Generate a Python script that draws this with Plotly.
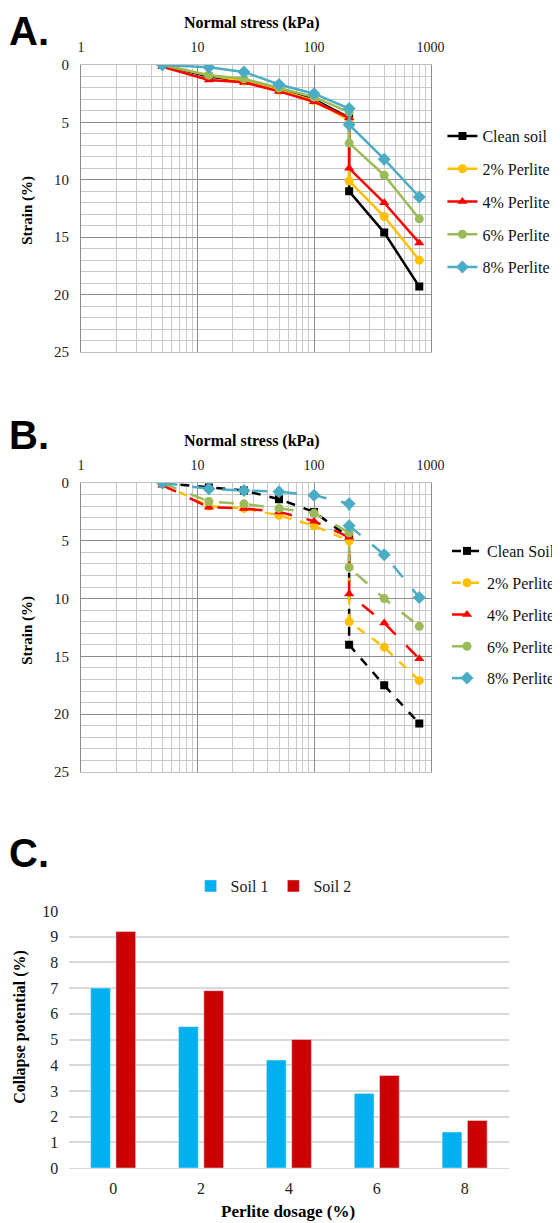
import plotly.graph_objects as go

# ---- data ----
stress = [5, 12.5, 25, 50, 100, 200, 200, 400, 800]

# panel A strain (%)
a_names = ["Clean soil", "2% Perlite", "4% Perlite", "6% Perlite", "8% Perlite"]
a_clean = [0, 1.0, 1.4, 2.1, 3.0, 4.6, 11.0, 14.6, 19.3]
a_p2 = [0, 0.9, 1.4, 2.2, 3.1, 4.8, 10.1, 13.2, 17.0]
a_p4 = [0.15, 1.3, 1.5, 2.3, 3.2, 4.6, 9.0, 12.0, 15.5]
a_p6 = [0, 0.9, 1.2, 2.0, 2.8, 4.1, 6.8, 9.6, 13.4]
a_p8 = [0, 0.2, 0.6, 1.7, 2.5, 3.8, 5.2, 8.2, 11.5]

# panel B strain (%)
b_names = ["Clean Soil", "2% Perlite", "4% Perlite", "6% Perlite", "8% Perlite"]
b_clean = [0, 0.4, 0.65, 1.4, 2.5, 4.7, 14.0, 17.5, 20.8]
b_p2 = [0.1, 2.0, 2.2, 2.8, 3.7, 5.0, 12.0, 14.2, 17.1]
b_p4 = [0.2, 2.1, 2.2, 2.5, 3.3, 4.7, 9.6, 12.1, 15.2]
b_p6 = [0, 1.6, 1.8, 2.2, 2.6, 4.3, 7.3, 10.0, 12.4]
b_p8 = [0, 0.5, 0.65, 0.75, 1.05, 1.8, 3.7, 6.2, 9.9]

# panel C collapse potential (%)
dosage = ["0", "2", "4", "6", "8"]
soil1 = [7.0, 5.5, 4.2, 2.9, 1.4]
soil2 = [9.2, 6.9, 5.0, 3.6, 1.85]

colors = ["black", "#FFC000", "#FF0000", "#9BBB59", "#4BACC6"]
symbols = ["square", "circle", "triangle-up", "circle", "diamond"]
msizes = [8, 9, 9, 9, 10]
b_dash = ["dash", "dash", "longdash", "longdash", "longdash"]

SERIF = "Liberation Serif"
SANS = "Liberation Sans"

# the html page has an 8px body margin, so work in page pixels and convert
OFF = 8
W = 560 - OFF
H = 1223 - OFF


def px(x):
    return (x - OFF) / W


def py(y):
    return 1 - (y - OFF) / H


fig = go.Figure()

for i, ys in enumerate([a_clean, a_p2, a_p4, a_p6, a_p8]):
    fig.add_trace(go.Scatter(
        x=stress, y=ys, name=a_names[i], mode="lines+markers",
        line=dict(color=colors[i], width=2.5),
        marker=dict(symbol=symbols[i], size=msizes[i], color=colors[i]),
        xaxis="x", yaxis="y", legend="legend", legendgroup="a%d" % i,
    ))

for i, ys in enumerate([b_clean, b_p2, b_p4, b_p6, b_p8]):
    fig.add_trace(go.Scatter(
        x=stress, y=ys, name=b_names[i], mode="lines+markers",
        line=dict(color=colors[i], width=2.5, dash=b_dash[i]),
        marker=dict(symbol=symbols[i], size=msizes[i], color=colors[i]),
        xaxis="x2", yaxis="y2", legend="legend2", legendgroup="b%d" % i,
    ))

fig.add_trace(go.Bar(x=dosage, y=soil1, name="Soil 1", marker_color="#00B0F0",
                     xaxis="x3", yaxis="y3", legend="legend3"))
fig.add_trace(go.Bar(x=dosage, y=soil2, name="Soil 2", marker_color="#CC0000",
                     xaxis="x3", yaxis="y3", legend="legend3"))

minor_x = [m * 10 ** e for e in range(3) for m in range(2, 10)]


def log_axis(dom, anchor):
    return dict(
        type="log", range=[0, 3], domain=dom, anchor=anchor, side="top",
        tickmode="array", tickvals=[1, 10, 100, 1000],
        ticktext=["1", "10", "100", "1000"],
        tickfont=dict(family=SERIF, size=14, color="#222"), ticklabelstandoff=6,
        showgrid=True, gridcolor="#8c8c8c", gridwidth=1,
        minor=dict(tickmode="array", tickvals=minor_x, showgrid=True,
                   gridcolor="#c8c8c8", gridwidth=1),
        showline=True, linecolor="#bfbfbf", mirror=True, ticks="",
        zeroline=False, automargin=False,
    )


def strain_axis(dom, anchor):
    return dict(
        range=[25, 0], domain=dom, anchor=anchor, dtick=5,
        tickfont=dict(family=SERIF, size=15, color="#222"), ticklabelstandoff=8,
        showgrid=True, gridcolor="#8c8c8c", gridwidth=1,
        minor=dict(dtick=1, showgrid=True, gridcolor="#c8c8c8", gridwidth=1),
        showline=True, linecolor="#8c8c8c", mirror=True, ticks="", zeroline=False,
        automargin=False,
    )


xdom = [px(82), px(436)]
fig.update_layout(
    width=W, height=H,
    margin=dict(l=0, r=0, t=0, b=0),
    paper_bgcolor="white", plot_bgcolor="white",
    showlegend=True,
    xaxis=log_axis(xdom, "y"),
    yaxis=strain_axis([py(352), py(65)], "x"),
    xaxis2=log_axis(xdom, "y2"),
    yaxis2=strain_axis([py(772), py(483)], "x2"),
    xaxis3=dict(domain=[px(70), px(515)], anchor="y3",
                tickfont=dict(family=SERIF, size=16, color="#222"), ticklabelstandoff=6,
                showline=True, linecolor="#d9d9d9", ticks="", automargin=False),
    yaxis3=dict(domain=[py(1168), py(911)], anchor="x3", range=[0, 10], dtick=1,
                tickfont=dict(family=SERIF, size=16, color="#222"), ticklabelstandoff=10,
                showgrid=True, gridcolor="#d9d9d9", gridwidth=1.5, zeroline=False,
                automargin=False),
    barmode="group", bargap=0.425, bargroupgap=0.22,
    legend=dict(x=px(448), y=py(119), xanchor="left", yanchor="top",
                font=dict(family=SERIF, size=16, color="#111"), tracegroupgap=9,
                itemwidth=30, bgcolor="rgba(0,0,0,0)"),
    legend2=dict(x=px(453), y=py(534), xanchor="left", yanchor="top",
                 font=dict(family=SERIF, size=16, color="#111"), tracegroupgap=8,
                 itemwidth=30, bgcolor="rgba(0,0,0,0)"),
    legend3=dict(orientation="h", x=px(277), y=py(869), xanchor="center", yanchor="top",
                 font=dict(family=SERIF, size=16, color="#222"), itemwidth=30,
                 bgcolor="rgba(0,0,0,0)"),
)

ann = []
# panel letters; box kept inside the paper
for lbl, boxtop in [("A.", 8), ("B.", 412), ("C.", 830)]:
    ann.append(dict(text="<b>%s</b>" % lbl, x=px(8), y=py(boxtop), xref="paper", yref="paper",
                    xanchor="left", yanchor="top", showarrow=False, borderpad=0,
                    font=dict(family=SANS, size=40, color="black")))
for yc in [23, 441]:
    ann.append(dict(text="<b>Normal stress (kPa)</b>", x=px(255), y=py(yc), xref="paper", yref="paper",
                    xanchor="center", yanchor="middle",
                    showarrow=False, font=dict(family=SERIF, size=16, color="black")))
for yc in [210, 630]:
    ann.append(dict(text="<b>Strain (%)</b>", x=px(27), y=py(yc), xref="paper", yref="paper",
                    xanchor="center", yanchor="middle",
                    textangle=-90, showarrow=False, font=dict(family=SERIF, size=15, color="black")))
ann.append(dict(text="<b>Collapse potential (%)</b>", x=px(20), y=py(1027), xref="paper", yref="paper",
                xanchor="center", yanchor="middle",
                textangle=-90, showarrow=False, font=dict(family=SERIF, size=16, color="black")))
ann.append(dict(text="<b>Perlite dosage (%)</b>", x=px(292), y=py(1211), xref="paper", yref="paper",
                xanchor="center", yanchor="middle",
                showarrow=False, font=dict(family=SERIF, size=17, color="black")))
fig.update_layout(annotations=ann)

fig.write_html("out.html")
